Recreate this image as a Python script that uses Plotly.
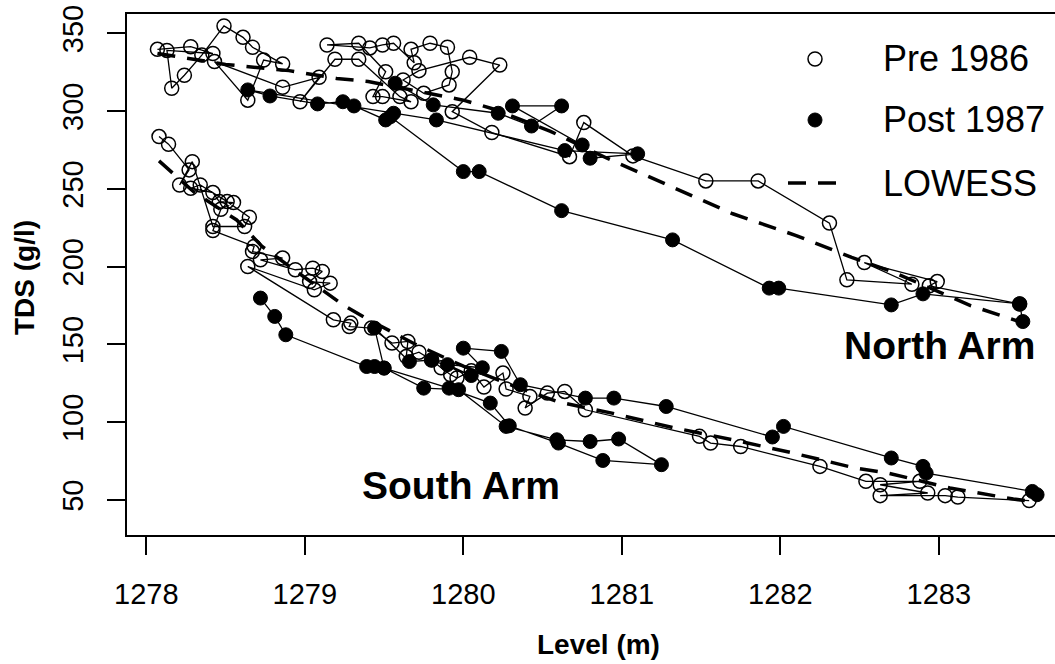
import plotly.graph_objects as go

# ---- North Arm, before 1986 (open circles) ----
north_pre_level = [1278.07, 1278.28, 1278.42, 1278.13, 1278.16, 1278.24, 1278.35, 1278.49,
                   1278.61, 1278.67, 1278.86, 1278.74, 1278.64, 1278.43, 1278.86, 1279.09,
                   1278.97, 1279.19, 1279.34, 1279.60, 1279.67, 1279.49, 1279.43, 1279.51,
                   1279.34, 1279.14, 1279.41, 1279.49, 1279.56, 1279.69, 1279.67, 1279.79,
                   1279.90, 1279.93, 1279.91, 1279.75, 1279.62, 1279.72, 1280.04, 1280.23,
                   1279.93, 1280.18, 1280.67, 1280.76, 1281.07, 1281.53, 1281.86, 1282.31,
                   1282.42, 1282.83, 1282.53, 1282.99, 1282.94, 1283.51]
north_pre_tds = [339.7, 341.4, 337.0, 339.0, 314.7, 323.0, 336.0, 354.7,
                 347.4, 341.0, 330.3, 332.8, 307.0, 331.8, 315.3, 321.7,
                 306.0, 333.3, 333.3, 309.3, 306.0, 309.3, 309.3, 325.3,
                 343.6, 342.5, 340.6, 342.5, 343.6, 331.0, 339.7, 343.6,
                 341.0, 325.3, 316.8, 311.4, 320.0, 326.0, 334.6, 329.6,
                 299.6, 286.2, 270.7, 292.6, 271.2, 255.1, 255.1, 228.0,
                 191.5, 188.7, 202.6, 190.4, 187.7, 176.0]

# ---- North Arm, after 1987 (filled circles) ----
north_post_level = [1283.53, 1283.51, 1282.90, 1282.70, 1281.99, 1281.93, 1281.32, 1280.62,
                    1280.10, 1280.00, 1279.54, 1279.51, 1279.31, 1279.24, 1279.08, 1278.78,
                    1278.64, 1279.56, 1279.83, 1280.64, 1281.10, 1280.80, 1280.75, 1280.31,
                    1280.62, 1280.43, 1280.22, 1279.81, 1279.57]
north_post_tds = [164.7, 176.1, 182.5, 175.4, 186.2, 186.2, 217.2, 236.0,
                  261.1, 261.1, 296.4, 294.3, 303.3, 306.0, 304.6, 309.7,
                  313.6, 298.6, 294.3, 274.6, 272.5, 269.7, 278.2, 303.3,
                  303.3, 290.4, 298.6, 304.0, 317.9]

# ---- South Arm, before 1986 (open circles) ----
south_pre_level = [1278.08, 1278.14, 1278.27, 1278.21, 1278.29, 1278.42, 1278.62, 1278.65,
                   1278.51, 1278.34, 1278.28, 1278.42, 1278.46, 1278.55, 1278.47, 1278.42,
                   1278.68, 1278.67, 1278.86, 1278.72, 1278.94, 1279.05, 1279.11, 1279.03,
                   1279.16, 1279.06, 1278.64, 1279.18, 1279.29, 1279.28, 1279.42, 1279.55,
                   1279.65, 1279.64, 1279.72, 1279.80, 1279.86, 1279.92, 1279.96, 1280.05,
                   1280.13, 1280.25, 1280.27, 1280.42, 1280.39, 1280.53, 1280.64, 1280.77,
                   1281.49, 1281.56, 1281.75, 1282.25, 1282.54, 1282.88, 1282.63, 1282.93,
                   1282.63, 1283.04, 1283.12, 1283.57]
south_pre_tds = [283.6, 278.7, 262.2, 252.5, 267.5, 225.8, 225.8, 231.8,
                 241.8, 252.5, 250.4, 247.6, 241.8, 241.2, 236.9, 223.2,
                 213.0, 209.7, 205.5, 204.4, 198.0, 199.0, 196.9, 190.4,
                 189.4, 185.1, 200.1, 165.8, 163.7, 161.5, 160.5, 150.9,
                 151.9, 142.2, 145.0, 140.0, 135.0, 130.5, 128.4, 133.0,
                 122.6, 131.6, 121.3, 116.6, 109.1, 118.7, 119.8, 108.0,
                 90.9, 86.6, 84.4, 71.6, 62.0, 62.0, 59.8, 54.5,
                 52.8, 52.8, 51.9, 49.6]

# ---- South Arm, after 1987 (filled circles) ----
south_post_level = [1283.62, 1283.59, 1282.92, 1282.90, 1282.70, 1282.02, 1281.95, 1281.28,
                    1280.95, 1280.77, 1280.36, 1280.24, 1280.00, 1280.12, 1279.90, 1280.05,
                    1279.80, 1279.66, 1279.44, 1279.50, 1279.75, 1279.97, 1280.27, 1280.59,
                    1280.80, 1280.98, 1281.25, 1280.88, 1280.60, 1280.29, 1280.17, 1279.91,
                    1279.50, 1279.44, 1279.39, 1278.88, 1278.81, 1278.72]
south_post_tds = [53.4, 55.5, 67.3, 71.6, 77.0, 97.3, 90.5, 110.1,
                  115.5, 115.5, 124.1, 145.5, 147.6, 135.0, 137.0, 130.0,
                  140.0, 139.0, 160.5, 134.8, 121.9, 120.9, 97.3, 88.7,
                  87.6, 89.2, 72.7, 75.4, 86.6, 97.7, 112.3, 121.9,
                  134.8, 135.8, 135.8, 156.2, 168.0, 179.8]

# ---- LOWESS smooths ----
north_lowess_level = [1278.07, 1278.5, 1278.9, 1279.2, 1279.4, 1279.7, 1280.0, 1280.2,
                      1280.55, 1280.9, 1281.3, 1281.7, 1282.1, 1282.45, 1282.7, 1283.2, 1283.53]
north_lowess_tds = [337, 330, 326, 321, 319, 313, 307, 301,
                    287, 270, 252, 234, 220, 206, 197, 175, 164]

south_lowess_level = [1278.08, 1278.3, 1278.57, 1278.73, 1279.0, 1279.24, 1279.4, 1279.7,
                      1280.0, 1280.3, 1280.6, 1280.93, 1281.32, 1281.7, 1282.08, 1282.47,
                      1282.68, 1283.07, 1283.47, 1283.6]
south_lowess_tds = [268, 248, 230, 213, 193, 175.5, 166, 150,
                    136, 124, 113, 106, 96.6, 88.7, 80.2, 70.6,
                    67.3, 57.7, 50.6, 49]

x_ticks = [1278, 1279, 1280, 1281, 1282, 1283]
y_ticks = [50, 100, 150, 200, 250, 300, 350]
legend_labels = ["Pre 1986", "Post 1987", "LOWESS"]

FONT = "Liberation Sans, Arial, sans-serif"
BLACK = "#000000"

fig = go.Figure()

open_marker = dict(symbol="circle-open", size=14, color=BLACK, line=dict(width=1.5, color=BLACK))
filled_marker = dict(symbol="circle", size=14, color=BLACK, line=dict(width=1, color=BLACK))
thin_line = dict(color=BLACK, width=1.3)
dash_line = dict(color=BLACK, width=3.5, dash="18px,12px")

for lev, tds in [(north_pre_level, north_pre_tds), (south_pre_level, south_pre_tds)]:
    fig.add_trace(go.Scatter(x=lev, y=tds, mode="lines+markers", line=thin_line,
                             marker=open_marker, showlegend=False, hoverinfo="skip"))
for lev, tds in [(north_post_level, north_post_tds), (south_post_level, south_post_tds)]:
    fig.add_trace(go.Scatter(x=lev, y=tds, mode="lines+markers", line=thin_line,
                             marker=filled_marker, showlegend=False, hoverinfo="skip"))
for lev, tds in [(north_lowess_level, north_lowess_tds), (south_lowess_level, south_lowess_tds)]:
    fig.add_trace(go.Scatter(x=lev, y=tds, mode="lines", line=dash_line,
                             showlegend=False, hoverinfo="skip"))

W, H = 1055, 664
ML, MT, MB = 127, 14, 129
PW, PH = W - ML, H - MT - MB


def px(xp):
    return (xp - ML) / PW


def py(yp):
    return (H - MB - yp) / PH


# Legend block in the upper right corner
sym_x = 815
rows = [59, 120, 183]
fig.add_shape(type="circle", xref="paper", yref="paper", xsizemode="pixel", ysizemode="pixel",
              xanchor=px(sym_x), yanchor=py(rows[0]), x0=-7, x1=7, y0=-7, y1=7,
              line=dict(color=BLACK, width=1.5), fillcolor="rgba(0,0,0,0)")
fig.add_shape(type="circle", xref="paper", yref="paper", xsizemode="pixel", ysizemode="pixel",
              xanchor=px(sym_x), yanchor=py(rows[1]), x0=-7, x1=7, y0=-7, y1=7,
              line=dict(color=BLACK, width=1), fillcolor=BLACK)
fig.add_shape(type="line", xref="paper", yref="paper",
              x0=px(788), x1=px(840), y0=py(rows[2]), y1=py(rows[2]),
              line=dict(color=BLACK, width=3.5, dash="18px,12px"))
for label, yp in zip(legend_labels, rows):
    fig.add_annotation(text=label, xref="paper", yref="paper", x=px(881), y=py(yp),
                       xanchor="left", yanchor="middle", showarrow=False,
                       font=dict(family=FONT, size=36, color=BLACK))

# Arm labels
fig.add_annotation(text="<b>North Arm</b>", xref="paper", yref="paper", x=px(939), y=py(346),
                   xanchor="center", yanchor="middle", showarrow=False,
                   font=dict(family=FONT, size=39, color=BLACK))
fig.add_annotation(text="<b>South Arm</b>", xref="paper", yref="paper", x=px(461), y=py(485),
                   xanchor="center", yanchor="middle", showarrow=False,
                   font=dict(family=FONT, size=39, color=BLACK))

# Axis titles
fig.add_annotation(text="<b>Level (m)</b>", xref="paper", yref="paper", x=px(598), y=py(644),
                   xanchor="center", yanchor="middle", showarrow=False,
                   font=dict(family=FONT, size=28, color=BLACK))
fig.add_annotation(text="<b>TDS (g/l)</b>", xref="paper", yref="paper", x=px(24), y=py(278),
                   xanchor="center", yanchor="middle", showarrow=False, textangle=-90,
                   font=dict(family=FONT, size=28, color=BLACK))

fig.update_layout(
    width=W, height=H,
    margin=dict(l=ML, r=0, t=MT, b=MB),
    paper_bgcolor="white", plot_bgcolor="white",
    showlegend=False,
    font=dict(family=FONT, size=29, color=BLACK),
    xaxis=dict(range=[1277.878, 1283.733], tickvals=x_ticks, ticktext=[str(v) for v in x_ticks],
               ticks="outside", ticklen=18, tickwidth=1.5, tickcolor=BLACK,
               showline=True, linewidth=2, linecolor=BLACK, mirror=True,
               showgrid=False, zeroline=False, ticklabelstandoff=14,
               tickfont=dict(family=FONT, size=29, color=BLACK)),
    yaxis=dict(range=[27.5, 362.4], tickvals=y_ticks, ticktext=[str(v) for v in y_ticks],
               ticks="outside", ticklen=18, tickwidth=1.5, tickcolor=BLACK, tickangle=-90,
               showline=True, linewidth=2, linecolor=BLACK, mirror=False,
               showgrid=False, zeroline=False, ticklabelstandoff=12,
               tickfont=dict(family=FONT, size=29, color=BLACK)),
)

fig.write_html("out.html")
